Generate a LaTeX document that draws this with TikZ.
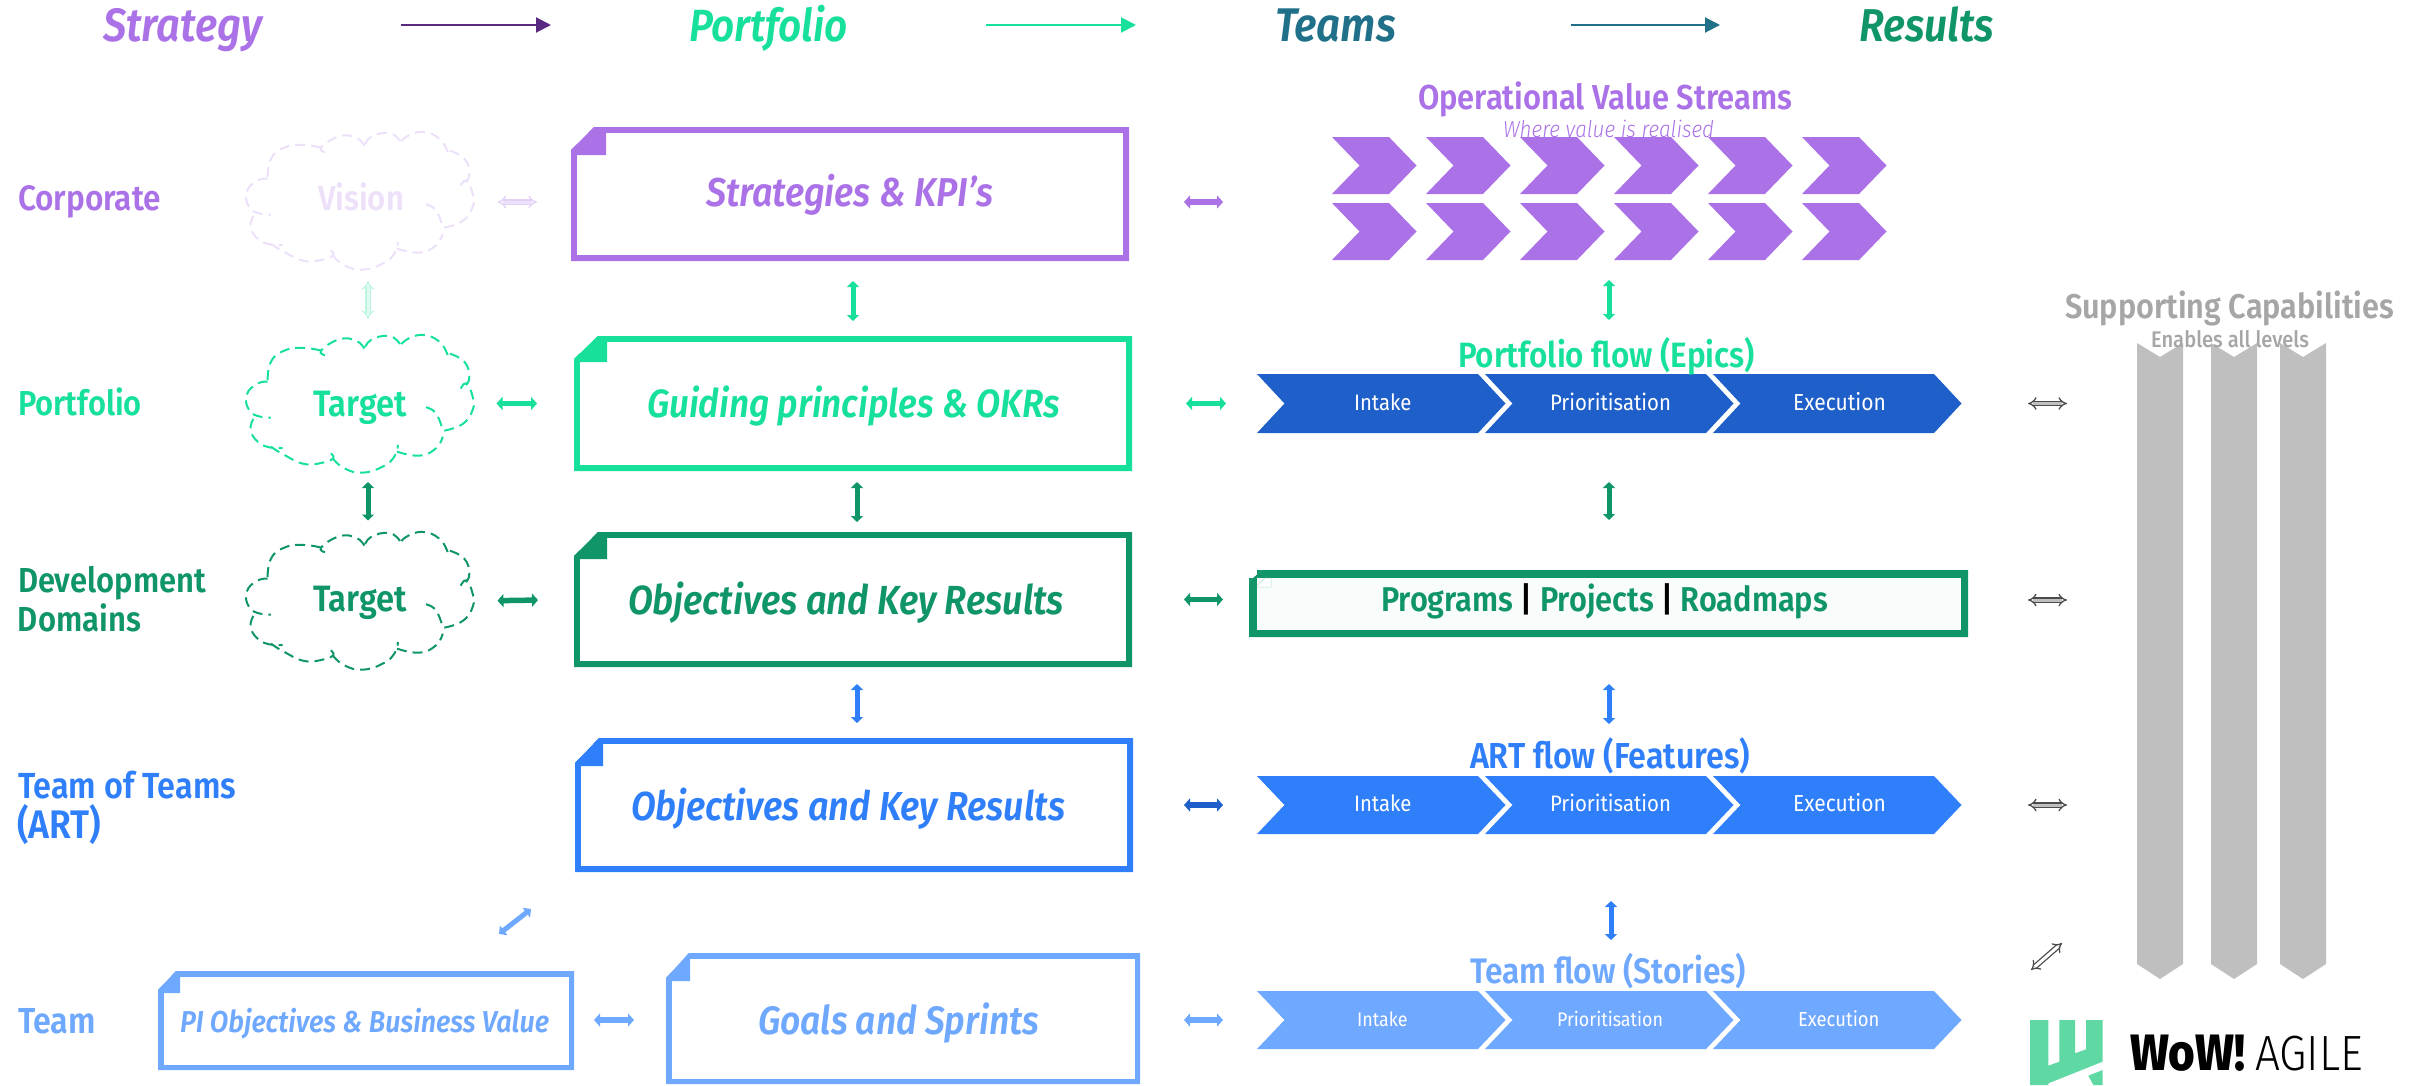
\documentclass[tikz,border=0pt]{standalone}
\usepackage{graphicx}
\usepackage{fontspec}
\setmainfont{Fira Sans}[BoldFont={Fira Sans SemiBold},BoldItalicFont={Fira Sans SemiBold Italic},ItalicFont={Fira Sans Italic}]
\newfontfamily\lightf{Fira Sans Light}[ItalicFont={Fira Sans Light Italic}]
\newfontfamily\heavyf{Fira Sans ExtraBold}
\newfontfamily\medf{Fira Sans Medium}
\usetikzlibrary{arrows.meta,calc}
\definecolor{cpurple}{HTML}{AB72E8}
\definecolor{cgreen}{HTML}{17E09A}
\definecolor{cdgreen}{HTML}{0F9568}
\definecolor{cblue}{HTML}{2F7EFA}
\definecolor{cdblue}{HTML}{1F5FC9}
\definecolor{clblue}{HTML}{6FA8FF}
\definecolor{cteal}{HTML}{20708A}
\definecolor{cdpurple}{HTML}{5A2A82}
\definecolor{cgrey}{HTML}{BFBFBF}
\definecolor{ctext}{HTML}{A6A6A6}
\definecolor{clogo}{HTML}{5FD8A3}
\definecolor{cfaintp}{HTML}{EDE1FA}
\definecolor{cfaintg}{HTML}{BDF5DF}
\tikzset{
  anchorbox/.style={draw=none,fill=none,inner sep=0pt,outer sep=0pt,minimum width=#1},
  headarrow/.style={draw=#1,line width=2pt,-{Triangle[length=15pt,width=15pt,#1]}},
  conn/.style={draw=#1,line width=5.5pt,{Triangle[length=6pt,width=13pt,fill=#1]}-{Triangle[length=6pt,width=13pt,fill=#1]}},
  thinv/.style={draw=#1,line width=5pt,{Triangle[length=6pt,width=12pt,fill=#1]}-{Triangle[length=6pt,width=12pt,fill=#1]}},
  hollow/.style 2 args={draw=#1,double=#2,double distance=3pt,line width=1.3pt,{Implies}-{Implies}},
  cloudline/.style={draw=#1,line width=2pt,dash pattern=on 10pt off 6pt,fill=none},
  txt/.style={anchor=base west,inner sep=0pt,outer sep=0pt},
}
% label: name, x, baseline, width, colour, font, text
\newcommand{\lbl}[7]{\node[txt,text=#5] (#1) at (#2,#3) {\scalebox{1}[1.12]{\resizebox{#4pt}{!}{\fontsize{40}{48}\selectfont #6#7}}};}
\newcommand{\flowtxt}[4]{\node[txt,text=white] (#1) at (#2,#3) {\scalebox{1}[1.1]{\resizebox{#4pt}{!}{\fontsize{22}{26}\selectfont \csname flowword#1\endcsname}}};}
% document box: name,x0,y0,x1,y1,colour,foldx,foldy,snipx,snipy,border
\newcommand{\docbox}[9]{\def\dbA{#1}\def\dbB{#2}\def\dbC{#3}\def\dbD{#4}\def\dbE{#5}\def\dbF{#6}\def\dbG{#7}\def\dbH{#8}\def\dbI{#9}\docboxC}
\newcommand{\docboxC}[2]{%
  \fill[\dbF] (\dbB,#1)--(\dbI,\dbC)--(\dbD,\dbC)--(\dbD,\dbE)--(\dbB,\dbE)--cycle;
  \fill[white] ({\dbB+#2},{\dbC+#2}) rectangle ({\dbD-#2},{\dbE-#2});
  \fill[\dbF] (\dbB,#1)--(\dbI,\dbC)--(\dbG,\dbC)--(\dbG,\dbH)--(\dbB,\dbH)--cycle;
  \path ({(\dbB+\dbD)/2},{(\dbC+\dbE)/2}) node[anchorbox={(\dbD-\dbB)*1pt},minimum height={(\dbE-\dbC)*1pt}] (\dbA) {};
}
\newcommand{\chev}[7]{\fill[#7] (#1,#3)--(#2,#3)--({#2+#5},#4)--(#2,#6)--(#1,#6)--({#1+#5},#4)--cycle;}
\newcommand{\cloudshape}[3]{%
\begin{scope}[shift={({#1-16.67},{#2-215})},x=0.3333pt,y=-0.3333pt]
 \draw[cloudline=#3] plot[smooth,tension=.8] coordinates {(115,785)(82,792)(52,825)(58,868)(85,888)(125,893)};
 \draw[cloudline=#3] plot[smooth,tension=.8] coordinates {(72,897)(64,930)(85,965)(120,982)(160,984)};
 \draw[cloudline=#3] plot[smooth,tension=.8] coordinates {(125,980)(165,1005)(225,1032)(280,1028)(312,1015)(302,998)};
 \draw[cloudline=#3] plot[smooth,tension=.8] coordinates {(310,1015)(345,1045)(400,1058)(460,1040)(495,1010)(506,975)};
 \draw[cloudline=#3] plot[smooth,tension=.8] coordinates {(503,995)(570,1007)(620,985)(640,950)};
 \draw[cloudline=#3] plot[smooth,tension=.8] coordinates {(590,862)(620,880)(640,930)};
 \draw[cloudline=#3] plot[smooth,tension=.8] coordinates {(645,932)(700,912)(730,870)(730,830)(710,790)(690,815)};
 \draw[cloudline=#3] plot[smooth,tension=.8] coordinates {(710,795)(720,770)(705,725)(658,700)};
 \draw[cloudline=#3] plot[smooth,tension=.8] coordinates {(655,705)(630,665)(580,645)(530,660)(510,685)};
 \draw[cloudline=#3] plot[smooth,tension=.8] coordinates {(512,672)(480,648)(425,660)(405,690)};
 \draw[cloudline=#3] plot[smooth,tension=.8] coordinates {(405,686)(380,662)(330,658)(275,692)(292,707)};
 \draw[cloudline=#3] plot[smooth,tension=.8] coordinates {(275,692)(225,684)(170,690)(125,725)(115,790)};
\end{scope}}
\expandafter\def\csname flowwordia\endcsname{Intake}
\expandafter\def\csname flowwordib\endcsname{Intake}
\expandafter\def\csname flowwordic\endcsname{Intake}
\expandafter\def\csname flowwordpa\endcsname{Prioritisation}
\expandafter\def\csname flowwordpb\endcsname{Prioritisation}
\expandafter\def\csname flowwordpc\endcsname{Prioritisation}
\expandafter\def\csname flowwordea\endcsname{Execution}
\expandafter\def\csname flowwordeb\endcsname{Execution}
\expandafter\def\csname flowwordec\endcsname{Execution}
\begin{document}
\begin{tikzpicture}[x=1pt,y=-1pt]
\useasboundingbox (0,0) rectangle (2418,1085);
% clouds
\cloudshape{246}{132}{cfaintp}
\cloudshape{246}{335}{cgreen}
\cloudshape{246}{532}{cdgreen}
\node[anchorbox=229pt,minimum height=137pt] (cloudV) at (361,200.5) {};
\node[anchorbox=229pt,minimum height=137pt] (cloudP) at (361,403.5) {};
\node[anchorbox=229pt,minimum height=137pt] (cloudD) at (361,601) {};
% boxes
\docbox{bS}{571}{127}{1129}{261}{cpurple}{606}{155}{594}{150}{6}
\docbox{bG}{574}{336}{1132}{471}{cgreen}{607}{362}{598}{359}{6}
\docbox{bO}{574}{532}{1132}{667}{cdgreen}{607}{559}{598}{556}{6}
\docbox{bA}{575}{738}{1133}{872}{cblue}{603}{766}{599}{763}{6}
\docbox{bPI}{158}{971}{574}{1070}{clblue}{180}{993}{176}{990}{5.5}
\docbox{bGo}{666}{953}{1140}{1084}{clblue}{690}{981}{689}{978}{5.5}
% programs box
\docbox{prog}{1249}{570}{1968}{637}{cdgreen}{1257}{578}{1262}{582}{7.5}
\fill[white!97!cdgreen] (1257,578) rectangle (1960,629);
\fill[white,draw=cdgreen!30,line width=.5pt] (1257,586)--(1265,578)--(1271,578)--(1271,587)--(1257,587)--cycle;
% purple chevrons
\foreach \i in {0,...,5}{
  \pgfmathsetmacro{\xa}{1332+94*\i}
  \pgfmathsetmacro{\xb}{1389+94*\i}
  \chev{\xa}{\xb}{137}{165.5}{27.5}{194}{cpurple}
  \chev{\xa}{\xb}{203}{231.5}{27.5}{260}{cpurple}
}
\node[anchorbox=554pt,minimum height=123pt] (vs) at (1609,198.5) {};
% flow chevrons
\newcommand{\flowrow}[3]{%
  \chev{1257}{1478}{#1}{#2}{27.5}{#3}{\flowcol}
  \chev{1485}{1706}{#1}{#2}{27.5}{#3}{\flowcol}
  \chev{1713}{1934}{#1}{#2}{27.5}{#3}{\flowcol}}
\def\flowcol{cdblue}\flowrow{374}{403.5}{433}
\def\flowcol{cblue}\flowrow{776}{805}{834}
\def\flowcol{clblue}\flowrow{991}{1020}{1049}
\node[anchorbox=704pt,minimum height=59pt] (fP) at (1609,403.5) {};
\node[anchorbox=704pt,minimum height=58pt] (fA) at (1609,805) {};
\node[anchorbox=704pt,minimum height=58pt] (fT) at (1609,1020) {};
% grey columns
\foreach \a/\b/\c in {2137/2160/2183,2211/2234/2257,2280/2303/2326}{
  \fill[cgrey] (\a,343)--(\b,357)--(\c,343)--(\c,964)--(\b,979)--(\a,964)--cycle;
}
\node[anchorbox=189pt,minimum height=636pt] (cols) at (2231.5,661) {};
% logo
\begin{scope}[shift={(2020,1005)},x=0.3333pt,y=-0.3333pt]
 \fill[clogo] (30,45)--(85,45)--(85,182)--(118,170)--(118,45)--(165,45)--(165,145)--(198,133)--(198,45)--(248,45)--(248,170)--(85,235)--(85,240)--(30,240)--cycle;
 \fill[clogo] (205,212)--(248,195)--(248,240)--(220,240)--cycle;
\end{scope}
\node[anchorbox=72pt,minimum height=66pt] (logo) at (2067,1052) {};
% header text
\lbl{tStr}{103}{41}{159}{cpurple}{\bfseries\itshape}{Strategy}
\lbl{tPor}{689}{41}{159}{cgreen}{\bfseries\itshape}{Portfolio}
\lbl{tTea}{1275}{41}{121}{cteal}{\bfseries\itshape}{Teams}
\lbl{tRes}{1859}{41}{135}{cdgreen}{\bfseries\itshape}{Results}
% left labels
\lbl{lCor}{18}{210}{143}{cpurple}{\bfseries}{Corporate}
\lbl{lPor}{18}{415}{124}{cgreen}{\bfseries}{Portfolio}
\lbl{lDev}{18}{592}{188}{cdgreen}{\bfseries}{Development}
\lbl{lDom}{18}{631}{123}{cdgreen}{\bfseries}{Domains}
\lbl{lTot}{18}{798}{218}{cblue}{\bfseries}{Team of Teams}
\lbl{lArt}{17}{838}{84}{cblue}{\bfseries}{(ART)}
\lbl{lTea}{18}{1033}{78}{clblue}{\bfseries}{Team}
% cloud text
\lbl{vV}{318}{210}{86}{cfaintp}{\bfseries}{Vision}
\lbl{vT1}{313}{416}{94}{cgreen}{\bfseries}{Target}
\lbl{vT2}{313}{611}{94}{cdgreen}{\bfseries}{Target}
% box text
\lbl{xS}{706}{206}{287}{cpurple}{\bfseries\itshape}{Strategies \& KPI’s}
\lbl{xG}{647}{417}{413}{cgreen}{\bfseries\itshape}{Guiding principles \& OKRs}
\lbl{xO}{628}{614}{436}{cdgreen}{\bfseries\itshape}{Objectives and Key Results}
\lbl{xA}{631}{820}{434}{cblue}{\bfseries\itshape}{Objectives and Key Results}
\lbl{xPI}{180}{1032}{369}{clblue}{\bfseries\itshape}{PI Objectives \& Business Value}
\lbl{xGo}{758}{1034}{281}{clblue}{\bfseries\itshape}{Goals and Sprints}
% titles
\lbl{oT}{1418}{109}{374}{cpurple}{\bfseries}{Operational Value Streams}
\lbl{oS}{1503}{137}{211}{cpurple}{\lightf\itshape}{Where value is realised}
\lbl{fPt}{1458}{367}{297}{cgreen}{\bfseries}{Portfolio flow (Epics)}
\lbl{fAt}{1470}{768}{280}{cblue}{\bfseries}{ART flow (Features)}
\lbl{fTt}{1470}{983}{276}{clblue}{\bfseries}{Team flow (Stories)}
\lbl{sC}{2065}{318}{329}{ctext}{\bfseries}{Supporting Capabilities}
\lbl{sE}{2151}{347}{158}{ctext}{\medf}{Enables all levels}
\lbl{pR}{1381}{611}{447}{cdgreen}{\bfseries}{Programs {\lightf\color{black}|} Projects {\lightf\color{black}|} Roadmaps}
% flow text
\flowtxt{ia}{1354}{410}{57.5}\flowtxt{pa}{1550}{410}{121}\flowtxt{ea}{1793}{410}{93}
\flowtxt{ib}{1354}{811.5}{57.5}\flowtxt{pb}{1550}{811.5}{121}\flowtxt{eb}{1793}{811.5}{93}
\flowtxt{ic}{1357}{1026}{50.5}\flowtxt{pc}{1557}{1026}{106}\flowtxt{ec}{1798}{1026}{81.5}
% logo text
\lbl{wW}{2130}{1070}{115}{black}{\heavyf}{WoW!}
\lbl{wA}{2255}{1070}{108}{black}{\lightf}{AGILE}
% header arrows
\draw[headarrow=cdpurple,shorten <=139pt,shorten >=138pt] ([yshift=16pt]tStr.base east) -- ([yshift=16pt]tPor.base west);
\draw[headarrow=cgreen,shorten <=138pt,shorten >=139pt] ([yshift=16pt]tPor.base east) -- ([yshift=16pt]tTea.base west);
\draw[headarrow=cteal,shorten <=175pt,shorten >=139pt] ([yshift=16pt]tTea.base east) -- ([yshift=16pt]tRes.base west);
% horizontal connectors
\draw[hollow={cfaintp!85!cpurple}{cfaintp},shorten <=22pt,shorten >=34pt] ([yshift=-1.5pt]cloudV.east) -- ([yshift=-8pt]bS.west);
\draw[conn=cgreen,shorten <=21pt,shorten >=37pt] (cloudP.east) -- (bG.west);
\draw[conn=cdgreen,shorten <=22pt,shorten >=36pt] (cloudD.east) -- (bO.west);
\draw[conn=clblue,shorten <=20pt,shorten >=32pt] ([yshift=.5pt]bPI.east) -- (bGo.west |- fT.west);
\draw[conn=cpurple,shorten <=55pt,shorten >=109pt] ([yshift=-8pt]bS.east) -- ([yshift=-8pt]bS.east -| vs.west);
\draw[conn=cgreen,shorten <=54pt,shorten >=31pt] (bG.east) -- (fP.west);
\draw[conn=cdgreen,shorten <=52pt,shorten >=26pt] (bO.east) -- (bO.east -| prog.west);
\draw[conn=cdblue,shorten <=51pt,shorten >=34pt] (bA.east) -- (fA.west);
\draw[conn=clblue,shorten <=44pt,shorten >=34pt] (bGo.east |- fT.west) -- (fT.west);
% grey connectors
\draw[hollow={black!70}{cgrey},shorten <=67pt,shorten >=70pt] (fP.east) -- (fP.east -| cols.west);
\draw[hollow={black!70}{cgrey},shorten <=60pt,shorten >=70pt] ([yshift=3.5pt]prog.east) -- ([yshift=3.5pt]prog.east -| cols.west);
\draw[hollow={black!70}{cgrey},shorten <=67pt,shorten >=70pt] (fA.east) -- (fA.east -| cols.west);
\coordinate (gd1) at (2031,970);
\coordinate (gd2) at (2062,943);
\draw[hollow={black!70}{white}] (gd1) -- (gd2);
% vertical connectors
\draw[hollow={cfaintg}{cfaintg!50},shorten <=12pt,shorten >=16pt] ([xshift=7pt]cloudV.south) -- ([xshift=7pt]cloudP.north);
\draw[thinv=cgreen,shorten <=20pt,shorten >=15pt] (bG.north |- bS.south) -- (bG.north);
\draw[thinv=cgreen,shorten <=20pt,shorten >=54pt] (vs.south) -- (fP.north);
\draw[thinv=cdgreen,shorten <=10pt,shorten >=12pt] ([xshift=7pt]cloudP.south) -- ([xshift=7pt]cloudD.north);
\draw[thinv=cdgreen,shorten <=11pt,shorten >=10pt] ([xshift=4pt]bG.south) -- ([xshift=4pt]bO.north);
\draw[thinv=cdgreen,shorten <=49pt,shorten >=50pt] (fP.south) -- (fP.south |- prog.north);
\draw[thinv=cblue,shorten <=17pt,shorten >=15pt] ([xshift=4pt]bO.south) -- ([xshift=3pt]bA.north);
\draw[thinv=cblue,shorten <=47pt,shorten >=52pt] (fA.north |- prog.south) -- (fA.north);
\draw[thinv=cblue,shorten <=67pt,shorten >=51pt] ([xshift=2pt]fA.south) -- ([xshift=2pt]fT.north);
\coordinate (bd1) at (531,909);
\coordinate (bd2) at (499,934);
\draw[thinv=clblue] (bd1) -- (bd2);
\end{tikzpicture}
\end{document}
